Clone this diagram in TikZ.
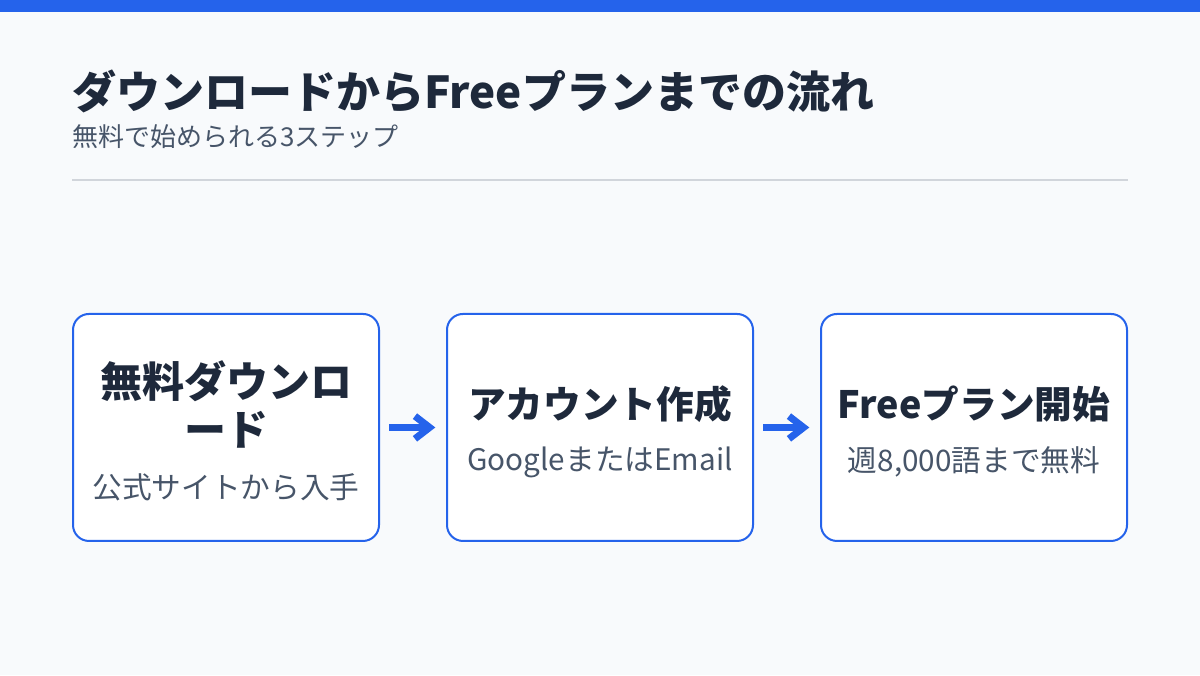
\documentclass[tikz,border=0pt]{standalone}
\usepackage{fontspec}
\setmainfont{Noto Sans CJK JP}
\definecolor{flow_blue}{RGB}{37, 99, 235}
\definecolor{flow_bg}{RGB}{248, 250, 252}
\definecolor{flow_ink}{RGB}{30, 41, 59}
\definecolor{flow_sub}{RGB}{71, 85, 105}
\definecolor{flow_rule}{RGB}{209, 213, 219}
\usetikzlibrary{arrows.meta, positioning}

\begin{document}
\begin{tikzpicture}[node distance=49.5pt,
    stepbox/.style={draw=flow_blue, line width=1.5pt, fill=white,
      rounded corners=12pt, minimum width=229.5pt,
      minimum height=170.25pt, inner sep=0pt},
    steptitle/.style={inner sep=0pt, text=flow_ink,
      font=\fontsize{28.25pt}{34pt}\selectfont\bfseries},
    stepnote/.style={inner sep=0pt, text=flow_sub,
      font=\fontsize{22.25pt}{27pt}\selectfont},
    flowarrow/.style={-{Straight Barb[length=11pt, width=17pt, line join=miter]},
      line width=5.25pt, flow_blue, shorten <=6.75pt, shorten >=8pt}]
  \useasboundingbox (0,0) rectangle (900pt,-506.25pt);
  \fill[flow_bg] (0,0) rectangle (900pt,-506.25pt);
  \fill[flow_blue] (0,0) rectangle (900pt,-9pt);

  % heading
  \node[anchor=west, inner sep=0pt, text=flow_ink,
        font=\fontsize{33pt}{40pt}\selectfont\bfseries]
        (head) at (54pt,-68.25pt) {ダウンロードからFreeプランまでの流れ};
  \node[anchor=west, inner sep=0pt, text=flow_sub,
        font=\fontsize{19.5pt}{24pt}\selectfont]
        (subhead) at (54pt,-102.4pt) {無料で始められる3ステップ};
  \coordinate (ruleL) at (54pt,-135pt);
  \coordinate (ruleR) at (846pt,-135pt);
  \draw[flow_rule, line width=1pt] (ruleL) -- (ruleR);

  % steps
  \node[stepbox] (dl) at (169.5pt,-320.6pt) {};
  \node[stepbox, right=of dl] (acc) {};
  \node[stepbox, right=of acc] (free) {};

  \node[steptitle, font=\fontsize{31.5pt}{38pt}\selectfont\bfseries]
        (dlT1) at ([yshift=34.9pt]dl.center) {無料ダウンロ};
  \node[steptitle, font=\fontsize{31.5pt}{38pt}\selectfont\bfseries]
        (dlT2) at ([yshift=-1.9pt]dl.center) {ード};
  \node[stepnote] (dlN) at ([yshift=-44.6pt]dl.center) {公式サイトから入手};
  \node[steptitle] (accT) at ([yshift=17.6pt]acc.center) {アカウント作成};
  \node[stepnote] (accN) at ([yshift=-25.9pt]acc.center) {GoogleまたはEmail};
  \node[steptitle] (freeT) at ([yshift=17.6pt]free.center) {Freeプラン開始};
  \node[stepnote] (freeN) at ([yshift=-25.9pt]free.center) {週8,000語まで無料};

  \draw[flowarrow] (dl) -- (acc);
  \draw[flowarrow] (acc) -- (free);
\end{tikzpicture}
\end{document}
